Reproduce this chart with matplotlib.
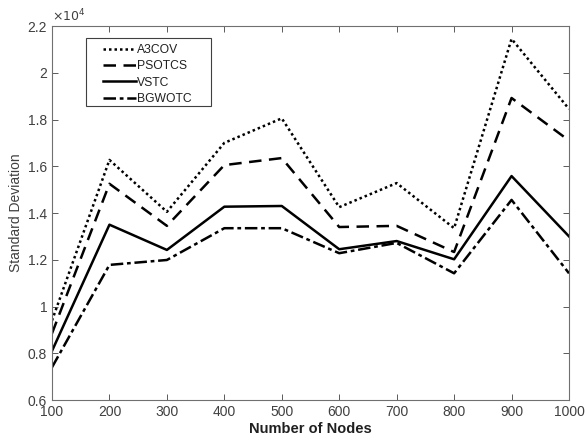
import matplotlib
matplotlib.use("Agg")
import matplotlib.pyplot as plt
from matplotlib.ticker import FuncFormatter
from matplotlib.patches import Rectangle

plt.rcParams['font.family'] = ['Liberation Sans', 'DejaVu Sans']

nodes = [100, 200, 300, 400, 500, 600, 700, 800, 900, 1000]
a3cov = [9400, 16270, 14050, 17000, 18050, 14250, 15280, 13350, 21450, 18450]
psotcs = [8850, 15250, 13450, 16050, 16350, 13400, 13450, 12330, 18920, 17100]
vstc = [8100, 13500, 12420, 14270, 14300, 12450, 12800, 12020, 15580, 13000]
bgwotc = [7400, 11780, 11990, 13350, 13350, 12280, 12720, 11420, 14560, 11420]
labels = ['A3COV', 'PSOTCS', 'VSTC', 'BGWOTC']
xticks = [100, 200, 300, 400, 500, 600, 700, 800, 900, 1000]
yticks = [6000, 8000, 10000, 12000, 14000, 16000, 18000, 20000, 22000]

W, H = 585, 444
L, R, T, B = 52, 569, 26, 400
fig = plt.figure(figsize=(W/100, H/100), dpi=100)
ax = fig.add_axes([L/W, 1-B/H, (R-L)/W, (B-T)/H])

def ax_frac(px, py):
    return (px - L) / (R - L), 1 - (py - T) / (B - T)

grey = '#404040'
lw = 1.8
ax.plot(nodes, a3cov, color='black', lw=lw, linestyle=(0, (1, 1.2)), label=labels[0])
ax.plot(nodes, psotcs, color='black', lw=lw, linestyle=(0, (5, 3)), label=labels[1])
ax.plot(nodes, vstc, color='black', lw=lw, linestyle='-', label=labels[2])
ax.plot(nodes, bgwotc, color='black', lw=lw, linestyle=(0, (5, 1.5, 1.5, 1.5)), label=labels[3])

ax.set_xlim(100, 1000)
ax.set_ylim(6000, 22000)
ax.set_xticks(xticks)
ax.set_yticks(yticks)
ax.yaxis.set_major_formatter(FuncFormatter(lambda v, p: '%g' % round(v / 1e4, 3)))
ax.text(0.0, 1.005, r'$\times10^4$', transform=ax.transAxes, color=grey, fontsize=9,
        ha='left', va='bottom')
ax.tick_params(direction='in', top=True, right=True, colors=grey, labelcolor=grey, labelsize=10, length=4, width=0.6)
for s in ax.spines.values():
    s.set_color('#707070')
    s.set_linewidth(0.8)

ax.set_xlabel('Number of Nodes', fontsize=10.5, fontweight='bold', color='#202020', labelpad=2)
ax.set_ylabel('Standard Deviation', fontsize=10, color=grey, labelpad=3)

# legend frame drawn separately
x0, y1 = ax_frac(86, 38)
x1, y0 = ax_frac(211, 106)
ax.add_patch(Rectangle((x0, y0), x1 - x0, y1 - y0, transform=ax.transAxes, fill=True,
                       facecolor='white', edgecolor='#404040', lw=0.8, zorder=4))
leg = ax.legend(loc='upper left', bbox_to_anchor=ax_frac(103, 44), fontsize=8.7, frameon=False,
                handlelength=2.7, handletextpad=0.15,
                borderpad=0, labelspacing=0.36, borderaxespad=0)
leg.set_zorder(5)
for t in leg.get_texts():
    t.set_color('#202020')

fig.savefig('out.png', dpi=100)
